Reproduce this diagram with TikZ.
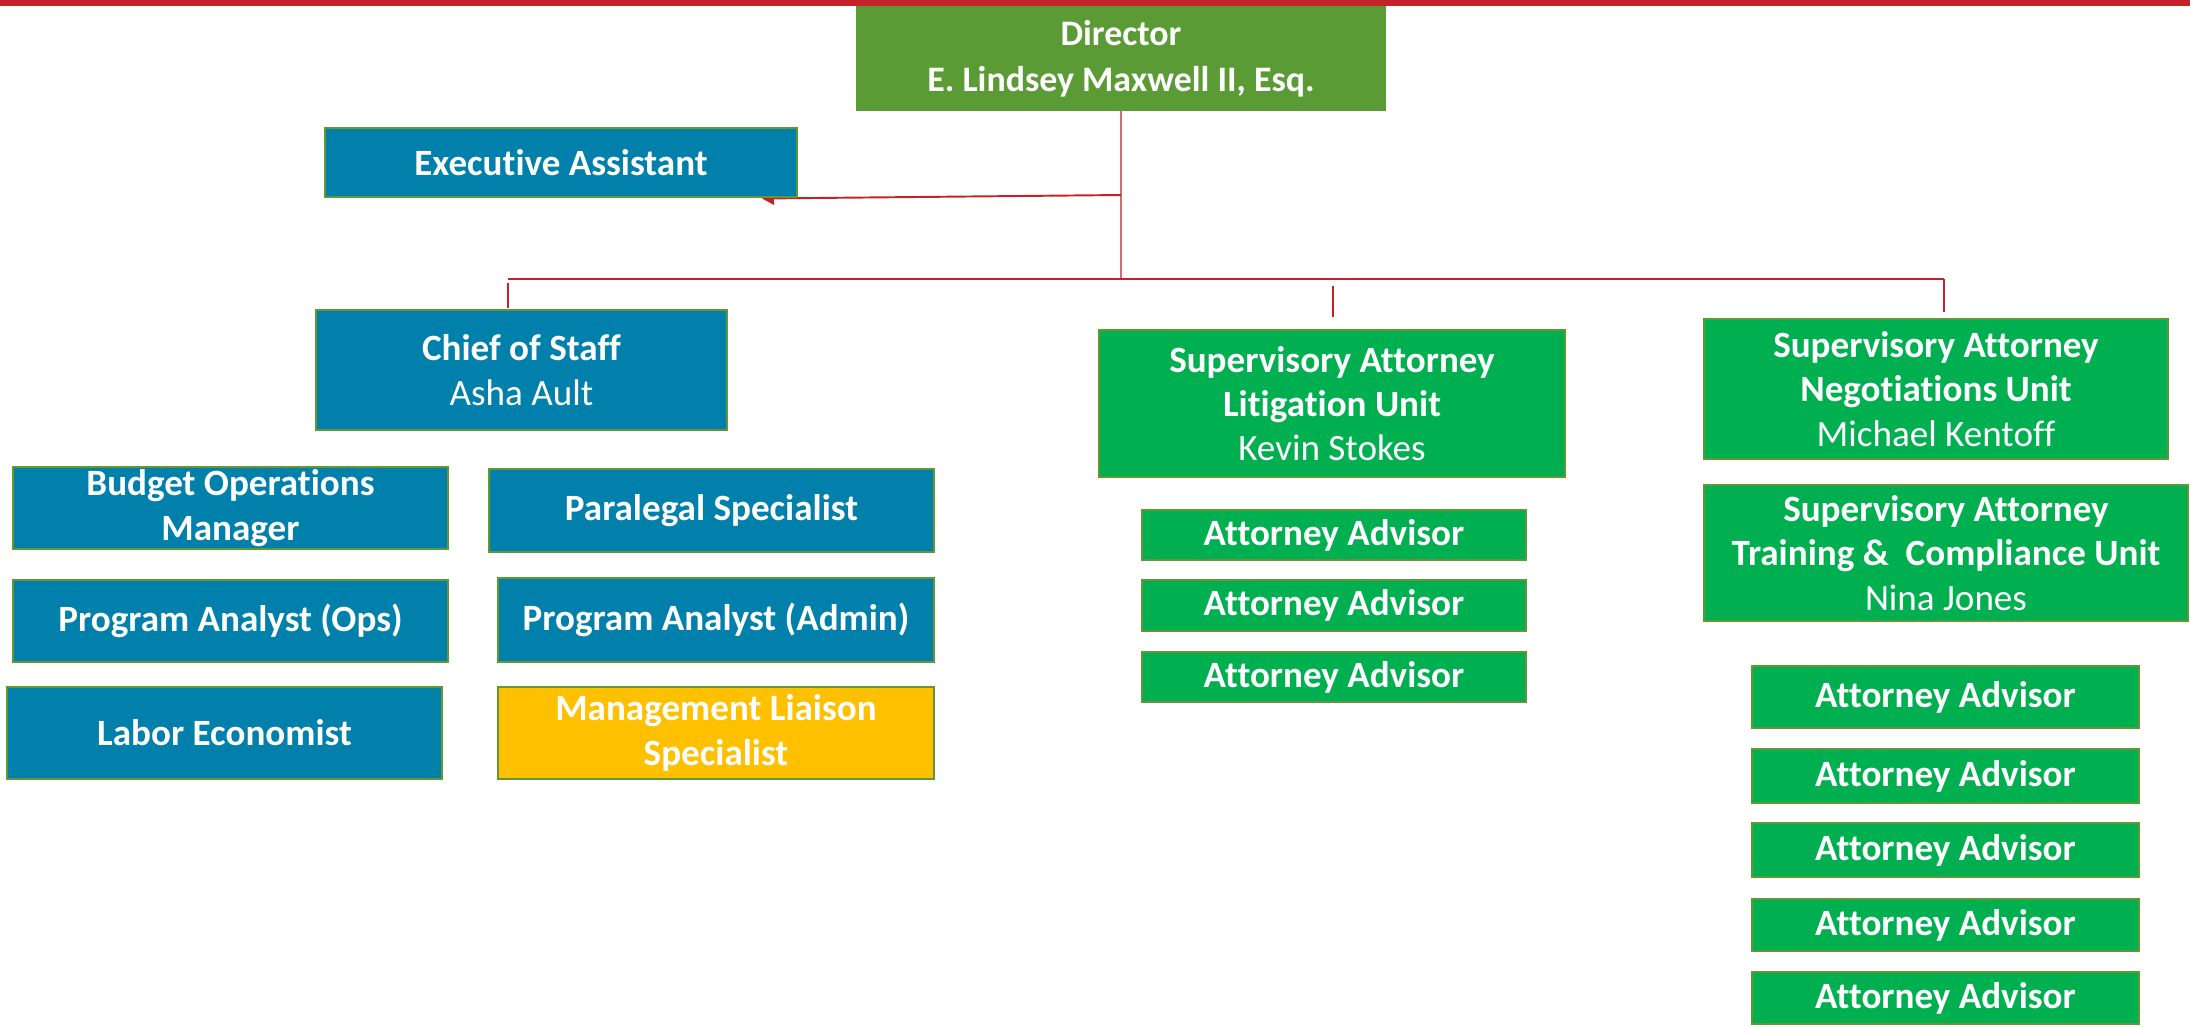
\documentclass[tikz,border=0pt]{standalone}
\usepackage{fontspec}
\setmainfont[Ligatures=NoCommon]{Carlito}
\usetikzlibrary{arrows.meta,backgrounds}
\definecolor{bluefill}{RGB}{0,128,171}
\definecolor{greenfill}{RGB}{0,176,80}
\definecolor{dirfill}{RGB}{91,155,53}
\definecolor{yellowfill}{RGB}{255,192,0}
\definecolor{edgegreen}{RGB}{98,152,52}
\definecolor{connred}{RGB}{196,34,40}
\definecolor{barred}{RGB}{196,34,40}
\definecolor{lightconn}{RGB}{208,110,110}
\newcommand{\orgbox}[7]{\node[#2, minimum width={(#5-#3)*0.01cm}, minimum height={(#6-#4)*0.01cm}] (#1) at ({(#3+#5)/2},{(#4+#6)/2}) {#7};}
\begin{document}
\begin{tikzpicture}[x=0.01cm,y=-0.01cm,
  box/.style={rectangle, draw=edgegreen, line width=0.6pt, text=white, align=center, inner sep=0pt,
    font=\fontsize{10.55pt}{12.6pt}\selectfont\bfseries},
  bluebox/.style={box, fill=bluefill},
  greenbox/.style={box, fill=greenfill},
  dirbox/.style={box, fill=dirfill, draw=dirfill, font=\fontsize{10.2pt}{13pt}\selectfont\bfseries},
  yellowbox/.style={box, fill=yellowfill},
  conn/.style={draw=connred, line width=0.55pt},
  thinconn/.style={draw=lightconn, line width=0.35pt}]
\useasboundingbox (0,0) rectangle (2190,1026);
\fill[barred] (0,0) rectangle (2190,6);

\orgbox{dir}{dirbox}{857}{7}{1385}{110}{Director\\E. Lindsey Maxwell II, Esq.}
\orgbox{ea}{bluebox}{325}{128}{797}{197}{Executive Assistant}
\orgbox{cos}{bluebox}{316}{310}{727}{430}{Chief of Staff\\{\mdseries Asha Ault}}
\orgbox{bom}{bluebox}{13}{467}{448}{549}{Budget Operations\\Manager}
\orgbox{par}{bluebox}{489}{469}{934}{552}{Paralegal Specialist}
\orgbox{pao}{bluebox}{13}{580}{448}{662}{Program Analyst (Ops)}
\orgbox{paa}{bluebox}{498}{578}{934}{662}{Program Analyst (Admin)}
\orgbox{lab}{bluebox}{7}{687}{442}{779}{Labor Economist}
\orgbox{mls}{yellowbox}{498}{687}{934}{779}{Management Liaison\\Specialist}
\orgbox{lit}{greenbox}{1099}{330}{1565}{477}{Supervisory Attorney\\Litigation Unit\\{\mdseries Kevin Stokes}}
\orgbox{la1}{greenbox}{1142}{510}{1526}{560}{Attorney Advisor}
\orgbox{la2}{greenbox}{1142}{580}{1526}{631}{Attorney Advisor}
\orgbox{la3}{greenbox}{1142}{652}{1526}{702}{Attorney Advisor}
\orgbox{neg}{greenbox}{1704}{319}{2168}{459}{Supervisory Attorney\\Negotiations Unit\\{\mdseries Michael Kentoff}}
\orgbox{trn}{greenbox}{1704}{485}{2188}{621}{Supervisory Attorney\\Training \&~ Compliance Unit\\{\mdseries Nina Jones}}
\orgbox{ra1}{greenbox}{1752}{666}{2139}{728}{Attorney Advisor}
\orgbox{ra2}{greenbox}{1752}{749}{2139}{803}{Attorney Advisor}
\orgbox{ra3}{greenbox}{1752}{823}{2139}{877}{Attorney Advisor}
\orgbox{ra4}{greenbox}{1752}{899}{2139}{951}{Attorney Advisor}
\orgbox{ra5}{greenbox}{1752}{972}{2139}{1024}{Attorney Advisor}

\coordinate (jb) at (1121,279);
\coordinate (jea) at (1121,195);
\coordinate (eatip) at (762,198.5);
\coordinate (busL) at (508,279);
\coordinate (busR) at (1944,279);
\coordinate (d1a) at (508,283);
\coordinate (d1b) at (508,308);
\coordinate (d2a) at (1333,286);
\coordinate (d2b) at (1333,317);
\coordinate (d3a) at (1944,279);
\coordinate (d3b) at (1944,312);

\begin{pgfonlayer}{background}
\draw[thinconn] (dir.south) -- (jb);
\draw[conn, -{Triangle[length=3.4pt,width=3.6pt]}] (jea) -- (eatip);
\draw[conn] (busL) -- (busR);
\draw[conn] (d1a) -- (d1b);
\draw[conn] (d2a) -- (d2b);
\draw[conn] (d3a) -- (d3b);
\end{pgfonlayer}
\end{tikzpicture}
\end{document}
